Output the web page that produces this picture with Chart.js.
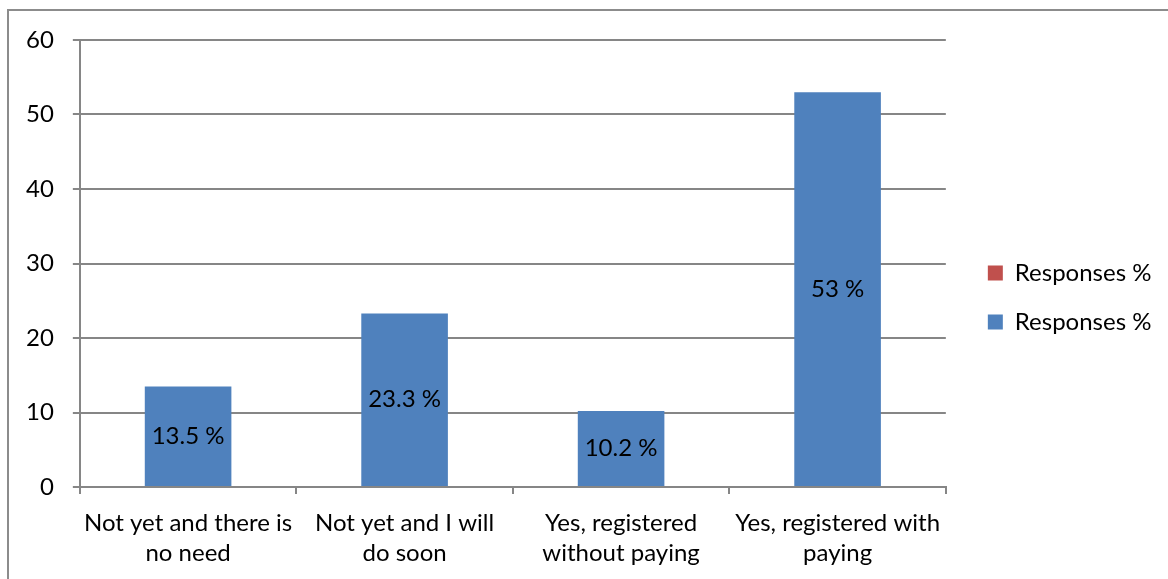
<!DOCTYPE html>
<html lang="en">
<head>
<meta charset="UTF-8" />
<title>Responses %</title>
<script src="https://cdn.jsdelivr.net/npm/chart.js@4.4.0/dist/chart.umd.min.js"></script>
<style>
  html, body { margin: 0; padding: 0; background: #fff; overflow: hidden; }
  .frame {
    position: absolute; left: 7px; top: 9px;
    width: 1200px; height: 620px;
    border: 2px solid #8c8c8c;
  }
  #chart { position: absolute; left: 0; top: 0; }
</style>
</head>
<body>
<div class="frame"></div>
<canvas id="chart" width="1168" height="579"></canvas>
<script>
  const categories = [
    ["Not yet and there is", "no need"],
    ["Not yet and I will", "do soon"],
    ["Yes, registered", "without paying"],
    ["Yes, registered with", "paying"],
  ];
  const responses = [13.5, 23.3, 10.2, 53];
  const emptySeries = [null, null, null, null];
  const yMin = 0;
  const yMax = 60;
  const yStep = 10;

  const gridColor = "#868686";

  // value labels centred inside each blue bar
  const barLabels = {
    id: "barLabels",
    afterDatasetsDraw(chart) {
      const ctx = chart.ctx;
      const meta = chart.getDatasetMeta(1);
      ctx.save();
      ctx.font = "24px Lato";
      ctx.fillStyle = "#000";
      ctx.textAlign = "center";
      ctx.textBaseline = "middle";
      meta.data.forEach((bar, i) => {
        const { x, y, base } = bar.getProps(["x", "y", "base"], true);
        ctx.fillText(responses[i] + " %", x, (y + base) / 2);
      });
      ctx.restore();
    },
  };

  // empty spacer axes, used only to push the plot area in
  const spacer = (size, horizontal) => ({
    position: horizontal ? "top" : "right",
    grid: { display: false },
    border: { display: false },
    ticks: { display: false },
    afterFit(scale) {
      if (horizontal) scale.height = size;
      else scale.width = size;
    },
  });

  Chart.defaults.font.family = "Lato";
  Chart.defaults.font.size = 24;
  Chart.defaults.color = "#000";

  new Chart(document.getElementById("chart"), {
    type: "bar",
    data: {
      labels: categories,
      datasets: [
        {
          label: "Responses %",
          data: emptySeries,
          backgroundColor: "#c0504d",
        },
        {
          label: "Responses %",
          data: responses,
          backgroundColor: "#4f81bd",
        },
      ],
    },
    options: {
      responsive: false,
      animation: false,
      grouped: false,
      barPercentage: 0.4,
      categoryPercentage: 1,
      layout: { padding: { left: 7, top: 13, right: 14, bottom: -3 } },
      plugins: {
        tooltip: { enabled: false },
        legend: {
          position: "right",
          labels: {
            boxWidth: 15,
            boxHeight: 15,
            padding: 25,
            font: { size: 24 },
          },
        },
      },
      scales: {
        x: {
          grid: {
            drawOnChartArea: false,
            color: gridColor,
            lineWidth: 2,
            tickLength: 7,
          },
          border: { color: gridColor, width: 2 },
          ticks: {
            padding: 14,
            maxRotation: 0,
            font: { size: 24, lineHeight: 1.25 },
          },
        },
        y: {
          min: yMin,
          max: yMax,
          grid: { color: gridColor, lineWidth: 2, tickLength: 7 },
          border: { color: gridColor, width: 2 },
          ticks: { stepSize: yStep, padding: 19, font: { size: 24 } },
        },
        topGap: spacer(27, true),
        rightGap: spacer(17, false),
      },
    },
    plugins: [barLabels],
  });
</script>
</body>
</html>
